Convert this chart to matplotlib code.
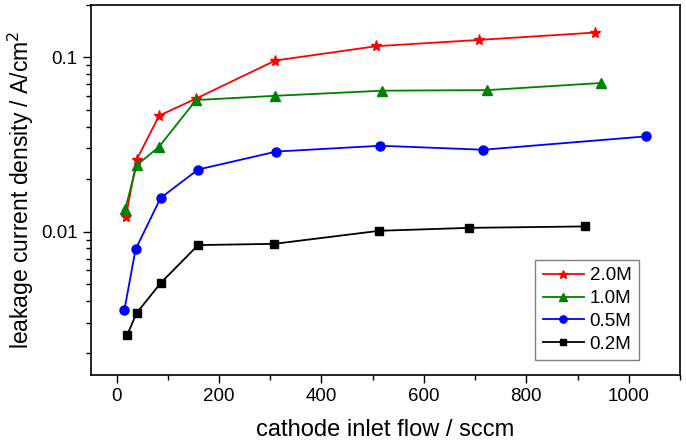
import matplotlib.pyplot as plt
import numpy as np
from matplotlib.ticker import MultipleLocator, LogLocator, NullFormatter

plt.rcParams['font.family'] = ['Liberation Sans', 'DejaVu Sans']

# 2.0M
x_20 = [18, 39, 83, 155, 310, 507, 707, 935]
y_20 = [0.0121, 0.0258, 0.0463, 0.058, 0.096, 0.116, 0.126, 0.139]
# 1.0M
x_10 = [17, 39, 83, 155, 310, 519, 724, 946]
y_10 = [0.0135, 0.024, 0.0307, 0.0569, 0.0602, 0.0644, 0.0649, 0.0713]
# 0.5M
x_05 = [15, 37, 86, 159, 312, 515, 716, 1034]
y_05 = [0.00352, 0.0079, 0.0156, 0.0227, 0.0288, 0.0311, 0.0295, 0.0352]
# 0.2M
x_02 = [21, 39, 86, 159, 308, 513, 689, 915]
y_02 = [0.00256, 0.0034, 0.00506, 0.00836, 0.0085, 0.0101, 0.0105, 0.0107]

fig = plt.figure(figsize=(6.86, 4.46), dpi=100)
ax = fig.add_axes([91/686, 1 - 375/446, 589/686, 370/446])

ax.plot(x_20, y_20, '-*', color='red', lw=1.3, ms=8, label='2.0M')
ax.plot(x_10, y_10, '-^', color='green', lw=1.3, ms=7, label='1.0M')
ax.plot(x_05, y_05, '-o', color='blue', lw=1.3, ms=6.5, label='0.5M')
ax.plot(x_02, y_02, '-s', color='black', lw=1.3, ms=5.5, label='0.2M')

ax.set_yscale('log')
ax.set_xlim(-50, 1100)
ax.set_ylim(0.0015, 0.2)
ax.xaxis.set_major_locator(MultipleLocator(200))
ax.xaxis.set_minor_locator(MultipleLocator(100))
ax.yaxis.set_minor_locator(LogLocator(base=10, subs=np.arange(2, 10)))
ax.yaxis.set_minor_formatter(NullFormatter())
ax.set_yticks([0.01, 0.1])
ax.set_yticklabels(['0.01', '0.1'])

ax.tick_params(which='both', direction='out', top=False, right=False, labelsize=13.5)
ax.tick_params(which='major', length=6, width=1)
ax.tick_params(which='minor', length=3.5, width=1)
for s in ax.spines.values():
    s.set_linewidth(1.2)

ax.set_xlabel('cathode inlet flow / sccm', fontsize=17, labelpad=10)
ax.set_ylabel('leakage current density / A/cm$^2$', fontsize=16.5)

leg = ax.legend(loc='lower right', fontsize=13.5, fancybox=False, edgecolor='gray',
                framealpha=1, handlelength=2.2, handletextpad=0.3,
                labelspacing=0.3, borderpad=0.4, borderaxespad=0,
                markerscale=0.8, bbox_to_anchor=(0.930, 0.04))
leg.get_frame().set_linewidth(1)

fig.savefig('out.png', dpi=100)
